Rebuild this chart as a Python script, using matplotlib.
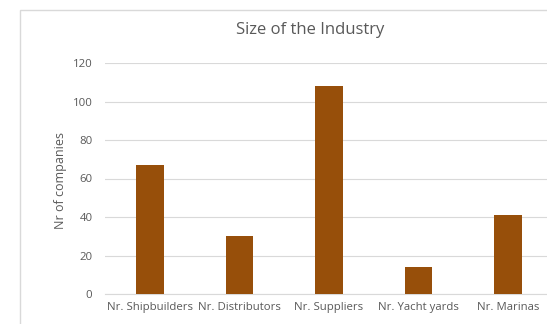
import matplotlib
matplotlib.use("Agg")
import matplotlib.pyplot as plt
from matplotlib.patches import Rectangle

categories = ["Nr. Shipbuilders", "Nr. Distributors", "Nr. Suppliers", "Nr. Yacht yards", "Nr. Marinas"]
values = [67, 30, 108, 14, 41]
y_ticks = [0, 20, 40, 60, 80, 100, 120]

plt.rcParams['font.family'] = ['Open Sans', 'DejaVu Sans']

fig = plt.figure(figsize=(5.47, 3.24), dpi=100)
fig.patch.set_facecolor("white")

# outer chart border
fig.patches.append(Rectangle((20 / 547, -0.1), 1.1, 1 - 10 / 324 + 0.1, transform=fig.transFigure,
                             fill=False, edgecolor="#D9D9D9", linewidth=1))

ax = fig.add_axes([105 / 547, 1 - 294 / 324, 448 / 547, (294 - 63) / 324])
x = range(len(categories))
ax.bar(x, values, width=0.31, color="#974F0A", zorder=3)

ax.set_xlim(-0.5, len(categories) - 0.5)
ax.set_ylim(0, 120)
ax.set_yticks(y_ticks)
ax.set_xticks(list(x))
ax.set_xticklabels(categories)
ax.tick_params(axis="both", length=0, labelsize=8.2, labelcolor="#595959")
ax.tick_params(axis="y", pad=9)
ax.tick_params(axis="x", pad=6)
ax.grid(axis="y", color="#D9D9D9", linewidth=0.8, zorder=0)
for s in ["top", "right", "left"]:
    ax.spines[s].set_visible(False)
ax.spines["bottom"].set_color("#D9D9D9")

ax.set_ylabel("Nr of companies", fontsize=9, color="#595959")
ax.yaxis.set_label_coords((67 - 105) / 448, 0.49)
fig.text(310 / 547, 1 - 30 / 324, "Size of the Industry", ha="center", va="center",
         fontsize=12, color="#595959")

fig.savefig("out.png", dpi=100)
